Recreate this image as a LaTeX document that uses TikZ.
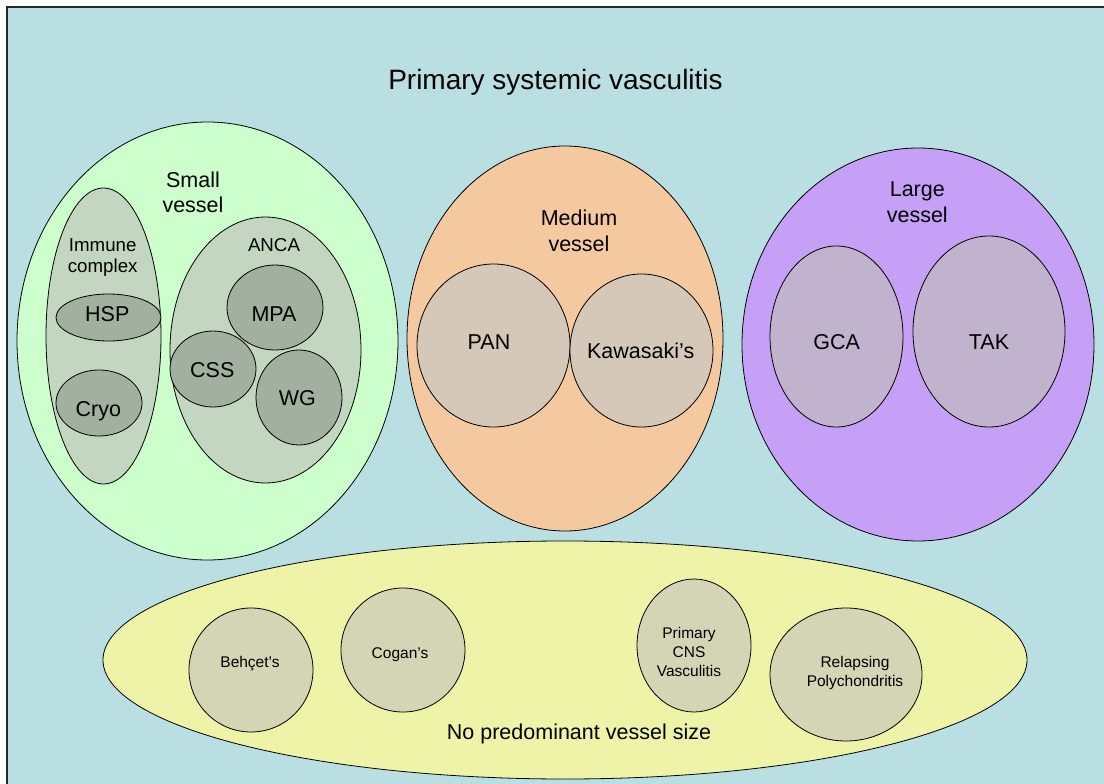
\documentclass[tikz,border=0pt]{standalone}
\usepackage{fontspec}
\setmainfont{Liberation Sans}
\usetikzlibrary{shapes.geometric}
\definecolor{bgc}{HTML}{B9DFE3}
\definecolor{smallc}{HTML}{CCFFCC}
\definecolor{groupc}{HTML}{C3D7C0}
\definecolor{darkc}{HTML}{A2B09F}
\definecolor{medc}{HTML}{F5C9A0}
\definecolor{medin}{HTML}{D5C8B8}
\definecolor{largec}{HTML}{C6A0F6}
\definecolor{largein}{HTML}{C1B3CE}
\definecolor{nonec}{HTML}{EEF3A8}
\definecolor{nonein}{HTML}{D4D5B4}
\begin{document}
\begin{tikzpicture}[x=1pt,y=-1pt,
  blob/.style={ellipse, draw=black, line width=0.8pt, inner sep=0pt},
  big/.style={font=\fontsize{21.5}{25}\selectfont, anchor=base, inner sep=0pt},
  mid/.style={font=\fontsize{18.7}{22}\selectfont, anchor=base, inner sep=0pt},
  sml/.style={font=\fontsize{15.5}{19}\selectfont, anchor=base, inner sep=0pt}
]
\useasboundingbox (0,0) rectangle (1104,784);
\fill[bgc] (7,7) rectangle (1104,784);
\draw[line width=1.5pt, black!85] (7,784) -- (7,7) -- (1104,7);

\node[font=\fontsize{28}{32}\selectfont, anchor=base, inner sep=0pt] (title) at (555.5,89) {Primary systemic vasculitis};

% Small vessel
\node[blob, fill=smallc, minimum width=381pt, minimum height=438pt] (small) at (207.5,341) {};
\node[blob, fill=groupc, minimum width=115pt, minimum height=296pt] (immune) at (103.5,336) {};
\node[blob, fill=groupc, minimum width=191pt, minimum height=266pt] (anca) at (265.5,350) {};
\node[blob, fill=darkc, minimum width=105pt, minimum height=47pt] (hsp) at (108.5,317.5) {};
\node[blob, fill=darkc, minimum width=86pt, minimum height=66pt] (cryo) at (99,403) {};
\node[blob, fill=darkc, minimum width=96pt, minimum height=85pt] (mpa) at (275,307.5) {};
\node[blob, fill=darkc, minimum width=86pt, minimum height=76pt] (css) at (213,369) {};
\node[blob, fill=darkc, minimum width=86pt, minimum height=95pt] (wg) at (299,397.5) {};
\node[big] (smallt1) at (193,187.3) {Small};
\node[big] (smallt2) at (193,212.7) {vessel};
\node[mid] (immunet1) at (102.7,251) {Immune};
\node[mid] (immunet2) at (102.7,272.7) {complex};
\node[mid] (ancat) at (274,251) {ANCA};
\node[big] (hspt) at (107.3,321) {HSP};
\node[big] (cryot) at (98.3,416) {Cryo};
\node[big] (mpat) at (274,321) {MPA};
\node[big] (csst) at (212.3,377.3) {CSS};
\node[big] (wgt) at (297.3,405.7) {WG};

% Medium vessel
\node[blob, fill=medc, minimum width=316pt, minimum height=385pt] (medium) at (565,338.5) {};
\node[blob, fill=medin, minimum width=153pt, minimum height=163pt] (pan) at (493.5,345.5) {};
\node[blob, fill=medin, minimum width=143pt, minimum height=153pt] (kawa) at (641.5,350.5) {};
\node[big] (medt1) at (579,225) {Medium};
\node[big] (medt2) at (579,251) {vessel};
\node[big] (pant) at (489,349.3) {PAN};
\node[big] (kawat) at (640.7,358.3) {Kawasaki’s};

% Large vessel
\node[blob, fill=largec, minimum width=352pt, minimum height=393pt] (large) at (918,344.5) {};
\node[blob, fill=largein, minimum width=133pt, minimum height=181pt] (gca) at (836.5,336.5) {};
\node[blob, fill=largein, minimum width=152pt, minimum height=191pt] (tak) at (989,331.5) {};
\node[big] (larget1) at (917.3,196) {Large};
\node[big] (larget2) at (917.3,222.7) {vessel};
\node[big] (gcat) at (836.7,349) {GCA};
\node[big] (takt) at (989,349) {TAK};

% No predominant vessel size
\node[blob, fill=nonec, minimum width=924pt, minimum height=238pt] (none) at (565,660) {};
\node[blob, fill=nonein, minimum width=124pt, minimum height=124pt] (behcet) at (251,670) {};
\node[blob, fill=nonein, minimum width=124pt, minimum height=124pt] (cogan) at (403,650) {};
\node[blob, fill=nonein, minimum width=114pt, minimum height=133pt] (cns) at (694,645.5) {};
\node[blob, fill=nonein, minimum width=152pt, minimum height=133pt] (rp) at (846,674.5) {};
\node[sml] (behcett) at (250,667.3) {Behçet’s};
\node[sml] (cogant) at (400,658.3) {Cogan’s};
\node[sml] (cnst1) at (689,638.3) {Primary};
\node[sml] (cnst2) at (689,657.7) {CNS};
\node[sml] (cnst3) at (689,676.7) {Vasculitis};
\node[sml] (rpt1) at (855,667.3) {Relapsing};
\node[sml] (rpt2) at (855,686) {Polychondritis};
\node[big] (nonet) at (579,739.3) {No predominant vessel size};
\end{tikzpicture}
\end{document}
